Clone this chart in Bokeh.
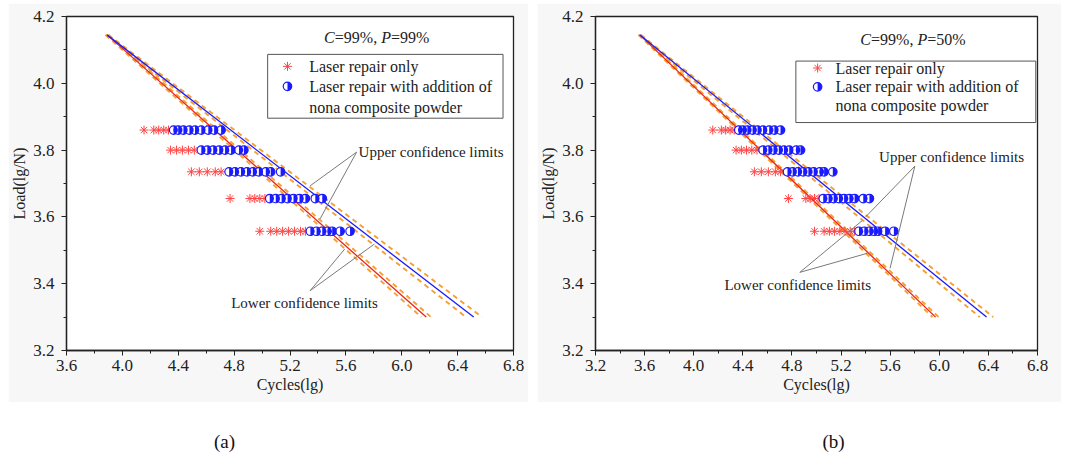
import numpy as np
from bokeh.plotting import figure
from bokeh.layouts import row, column
from bokeh.models import Spacer, FixedTicker, Range1d, NumeralTickFormatter
from bokeh.core.properties import value
from bokeh.embed import file_html
from bokeh.resources import INLINE

FONT = "Liberation Serif"

# ---------------- data (log10 cycles vs log10 load) ----------------
RED_X = [4.155, 4.225, 4.26, 4.296, 4.33,
         4.345, 4.388, 4.43, 4.473, 4.515,
         4.494, 4.551, 4.608, 4.665, 4.707,
         4.771, 4.913, 4.948, 4.984, 5.02,
         4.984, 5.062, 5.105, 5.147, 5.19, 5.232, 5.275, 5.31]
RED_Y = [3.86] * 5 + [3.80] * 5 + [3.735] * 5 + [3.655] * 5 + [3.557] * 8

BLUE_X = [4.367, 4.40, 4.437, 4.48, 4.52, 4.565, 4.615, 4.657, 4.707,
          4.565, 4.608, 4.65, 4.693, 4.735, 4.778, 4.835, 4.87,
          4.764, 4.806, 4.849, 4.892, 4.934, 4.977, 5.027, 5.062, 5.133,
          5.055, 5.098, 5.14, 5.183, 5.225, 5.268, 5.31, 5.381, 5.431,
          5.346, 5.39, 5.431, 5.47, 5.502, 5.559, 5.63]
BLUE_Y = [3.86] * 9 + [3.80] * 8 + [3.735] * 9 + [3.655] * 9 + [3.557] * 7

# fitted lines and confidence limits (x at the two load ends)
FIT_Y = [4.145, 3.30]
A_RED_FIT_X = [3.89, 6.175]
A_RED_LCL_X = [3.88, 6.14]
A_RED_UCL_X = [3.90, 6.21]
A_BLUE_FIT_X = [3.89, 6.515]
A_BLUE_LCL_X = [3.88, 6.46]
A_BLUE_UCL_X = [3.90, 6.575]

B_RED_FIT_X = [3.56, 5.97]
B_RED_LCL_X = [3.55, 5.945]
B_RED_UCL_X = [3.57, 5.995]
B_BLUE_FIT_X = [3.56, 6.385]
B_BLUE_LCL_X = [3.55, 6.33]
B_BLUE_UCL_X = [3.57, 6.44]

A_XTICKS = [3.6, 4.0, 4.4, 4.8, 5.2, 5.6, 6.0, 6.4, 6.8]
B_XTICKS = [3.2, 3.6, 4.0, 4.4, 4.8, 5.2, 5.6, 6.0, 6.4, 6.8]
YTICKS = [3.2, 3.4, 3.6, 3.8, 4.0, 4.2]

LEG1 = "Laser repair only"
LEG2 = "Laser repair with addition of"
LEG3 = "nona composite powder"
UPPER = "Upper confidence limits"
LOWER = "Lower confidence limits"

RED_PT = "#ff4444"
RED_LN = "#e8231b"
BLUE = "#1a1aff"
ORANGE = "#f5a030"
GRAY = "#7a7a7a"


def panel(cfg):
    p = figure(width=cfg["w"], height=399, x_range=Range1d(*cfg["xr"]),
               y_range=Range1d(3.2, 4.2), output_backend="svg",
               toolbar_location=None, min_border_left=cfg["bl"],
               min_border_right=cfg["br"], min_border_top=cfg["bt"],
               min_border_bottom=cfg["bb"])
    p.background_fill_color = "white"
    p.border_fill_color = "#f7f7f7"
    p.outline_line_color = "#222222"
    p.outline_line_width = 1.3
    p.grid.visible = False

    xt = cfg["xticks"]
    xminor = [round(t + 0.2, 2) for t in xt[:-1]]
    p.xaxis.ticker = FixedTicker(ticks=xt, minor_ticks=xminor)
    yminor = [round(t + 0.1, 2) for t in YTICKS[:-1]]
    p.yaxis.ticker = FixedTicker(ticks=YTICKS, minor_ticks=yminor)
    p.xaxis.formatter = NumeralTickFormatter(format="0.0")
    p.yaxis.formatter = NumeralTickFormatter(format="0.0")
    p.xaxis.axis_label = "Cycles(lg)"
    p.yaxis.axis_label = "Load(lg/N)"
    for ax in (p.xaxis, p.yaxis):
        ax.axis_label_text_font = FONT
        ax.axis_label_text_font_style = "normal"
        ax.axis_label_text_font_size = "16px"
        ax.axis_label_text_color = "#222222"
        ax.major_label_text_font = FONT
        ax.major_label_text_font_size = "17px"
        ax.major_label_text_color = "#222222"
        ax.axis_line_color = "#222222"
        ax.axis_line_width = 1.3
        ax.major_tick_line_color = "#222222"
        ax.minor_tick_line_color = "#222222"
        ax.major_tick_out = 5
        ax.major_tick_in = 0
        ax.minor_tick_out = 3
        ax.minor_tick_in = 0
    p.xaxis.major_label_standoff = 4
    p.xaxis.axis_label_standoff = 2
    p.yaxis.major_label_standoff = 7
    p.yaxis.axis_label_standoff = 2

    # confidence limits (dashed) and fitted lines
    for xs in (cfg["rl"], cfg["ru"], cfg["bl_"], cfg["bu"]):
        p.line(xs, FIT_Y, line_color=ORANGE, line_width=1.9, line_dash="5 4")
    p.line(cfg["rf"], FIT_Y, line_color=RED_LN, line_width=1.3)
    p.line(cfg["bf"], FIT_Y, line_color=BLUE, line_width=1.3)

    # data points
    p.scatter(RED_X, RED_Y, marker="asterisk", size=9, line_color=RED_PT,
              line_width=1.0)
    p.scatter(BLUE_X, BLUE_Y, marker="circle", size=8.5, line_color=BLUE,
              fill_color="white", line_width=1.2)
    p.wedge(BLUE_X, BLUE_Y, radius=4.25, radius_units="screen",
            start_angle=-np.pi / 2, end_angle=np.pi / 2, fill_color=BLUE,
            line_color=None)

    # legend (drawn by hand because of the two-line label)
    lb = cfg["leg_box"]
    p.quad(left=[lb[0]], right=[lb[1]], bottom=[lb[2]], top=[lb[3]],
           fill_color="white", line_color="#555555", line_width=1)
    mx, ty = cfg["leg_mx"], cfg["leg_rows"]
    p.scatter([mx], [ty[0]], marker="asterisk", size=9, line_color=RED_PT)
    p.scatter([mx], [ty[1]], marker="circle", size=8.5, line_color=BLUE,
              fill_color="white", line_width=1.2)
    p.wedge([mx], [ty[1]], radius=4.25, radius_units="screen",
            start_angle=-np.pi / 2, end_angle=np.pi / 2, fill_color=BLUE,
            line_color=None)
    p.text([cfg["leg_tx"]] * 3, ty, text=[LEG1, LEG2, LEG3],
           text_font=value(FONT), text_font_size="16px",
           text_baseline="middle", text_color="#222222")

    # title C=99%, P=..%
    cx, cy = cfg["cp"]
    parts = [("C", "italic", 0), ("=99%, ", "normal", 10.7),
             ("P", "italic", 57.1), (cfg["pval"], "normal", 66.9)]
    for t, st, off in parts:
        p.text([cx], [cy], text=[t], x_offset=off, text_font=value(FONT),
               text_font_style=st, text_font_size="16px",
               text_baseline="middle", text_color="#222222")

    # leader lines + labels
    for (vx, vy), ends in ((cfg["up_v"], cfg["up_e"]), (cfg["lo_v"], cfg["lo_e"])):
        for ex, ey in ends:
            p.line([vx, ex], [vy, ey], line_color=GRAY, line_width=1)
    p.text([cfg["up_t"][0]], [cfg["up_t"][1]], text=[UPPER],
           text_font=value(FONT), text_font_size="15px",
           text_baseline="middle", text_color="#222222")
    p.text([cfg["lo_t"][0]], [cfg["lo_t"][1]], text=[LOWER],
           text_font=value(FONT), text_font_size="15px",
           text_baseline="middle", text_color="#222222")
    return p


cfg_a = dict(w=520, xr=(3.6, 6.8), bl=54, br=15, bt=12, bb=52, xticks=A_XTICKS,
             rf=A_RED_FIT_X, rl=A_RED_LCL_X, ru=A_RED_UCL_X,
             bf=A_BLUE_FIT_X, bl_=A_BLUE_LCL_X, bu=A_BLUE_UCL_X,
             leg_box=(5.04, 6.725, 3.8955, 4.0866), leg_mx=5.182,
             leg_rows=[4.0507, 3.991, 3.928], leg_tx=5.337,
             cp=(5.444, 4.137), pval="=99%",
             up_t=(5.691, 3.794), up_v=(5.677, 3.794),
             up_e=[(5.344, 3.693), (5.415, 3.594)],
             lo_t=(4.779, 3.343), lo_v=(5.344, 3.379),
             lo_e=[(5.592, 3.504), (5.805, 3.519)])

cfg_b = dict(w=524, xr=(3.2, 6.8), bl=54, br=24, bt=13, bb=49, xticks=B_XTICKS,
             rf=B_RED_FIT_X, rl=B_RED_LCL_X, ru=B_RED_UCL_X,
             bf=B_BLUE_FIT_X, bl_=B_BLUE_LCL_X, bu=B_BLUE_UCL_X,
             leg_box=(4.832, 6.786, 3.8825, 4.0665), leg_mx=5.009,
             leg_rows=[4.0457, 3.9893, 3.933], leg_tx=5.155,
             cp=(5.357, 4.1318), pval="=50%",
             up_t=(5.51, 3.7786), up_v=(5.801, 3.752),
             up_e=[(5.40, 3.60), (5.599, 3.446)],
             lo_t=(4.25, 3.396), lo_v=(4.864, 3.434),
             lo_e=[(5.373, 3.589), (5.413, 3.491)])

pa = panel(cfg_a)
pb = panel(cfg_b)

lab = figure(width=1061, height=56, x_range=Range1d(0, 1061),
             y_range=Range1d(0, 56), output_backend="svg",
             toolbar_location=None, min_border=0)
lab.axis.visible = False
lab.grid.visible = False
lab.outline_line_color = None
lab.background_fill_color = "white"
lab.border_fill_color = "white"
lab.text([224, 833], [17, 17], text=["(a)", "(b)"], text_font=value(FONT),
         text_font_size="19px", text_align="center",
         text_baseline="middle", text_color="#111111")

top = row(Spacer(width=8, height=399), pa, Spacer(width=9, height=399), pb)
layout = column(Spacer(width=1061, height=3), top, lab, spacing=0)
open("out.html", "w").write(file_html(layout, INLINE))
